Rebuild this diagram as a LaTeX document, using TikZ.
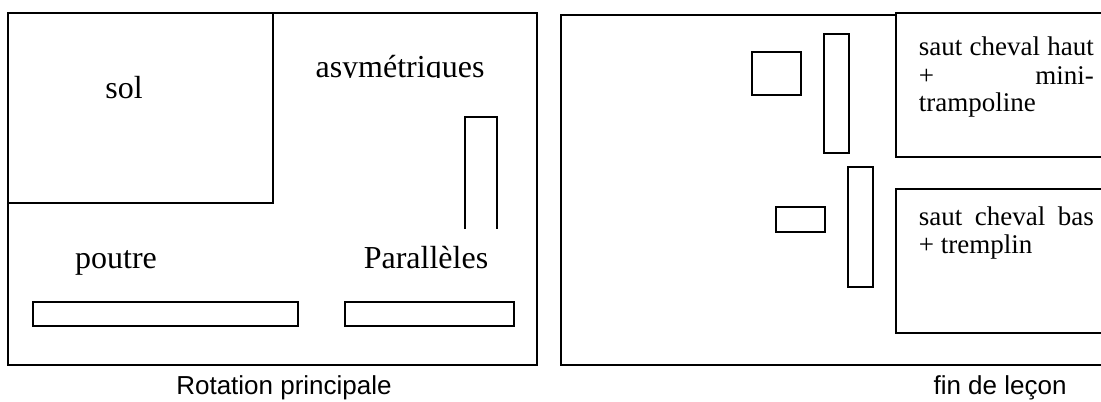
\documentclass[tikz,border=0pt]{standalone}
\usepackage{fontspec}
\setmainfont{Liberation Serif}
\newfontfamily\arialfont{Liberation Sans}
\begin{document}
\begin{tikzpicture}[x=0.5pt,y=-0.5pt,line width=0.8pt,
  lbl/.style={font=\fontsize{16}{19}\selectfont, inner sep=0pt, anchor=base},
  txt/.style={font=\fontsize{13.5}{15}\selectfont, inner sep=0pt, anchor=base west},
  captxt/.style={font=\arialfont\fontsize{13}{15}\selectfont, inner sep=0pt, anchor=base}]
\useasboundingbox (0,0) rectangle (1101,401);
\clip (0,0) rectangle (1101,401);
% rotation principale
\draw (8,13) rectangle (537,365);
\draw (8,13) rectangle (273,203);
\node[lbl] (sol) at (124,98) {sol};
\begin{scope}
\clip (300,40) rectangle (530,78);
\node[lbl] (asym) at (400,78) {asymétriques};
\end{scope}
\draw (465,229) -- (465,117) -- (497,117) -- (497,229);
\node[lbl] (poutre) at (116,268) {poutre};
\node[lbl] (paral) at (426,268) {Parallèles};
\draw (33,302) rectangle (298,326);
\draw (345,302) rectangle (514,326);
\node[captxt] (rot) at (284,394) {Rotation principale};
% fin de lecon
\draw (561,15) rectangle (1140,365);
\draw (752,52) rectangle (801,95);
\draw (824,34) rectangle (849,153);
\draw (848,167) rectangle (873,287);
\draw (776,207) rectangle (825,232);
\draw[fill=white] (896,13) rectangle (1140,157);
\draw[fill=white] (896,189) rectangle (1140,333);
\node[txt] (haut1) at (918,56) {\makebox[87.5pt][s]{saut cheval haut}};
\node[txt] (haut2) at (918,84) {\makebox[87.5pt][s]{+ mini-}};
\node[txt] (haut3) at (918,112) {trampoline};
\node[txt] (bas1) at (918,225) {\makebox[87.5pt][s]{saut cheval bas}};
\node[txt] (bas2) at (918,253) {+ tremplin};
\node[captxt] (fin) at (1000,394) {fin de leçon};
\end{tikzpicture}
\end{document}
